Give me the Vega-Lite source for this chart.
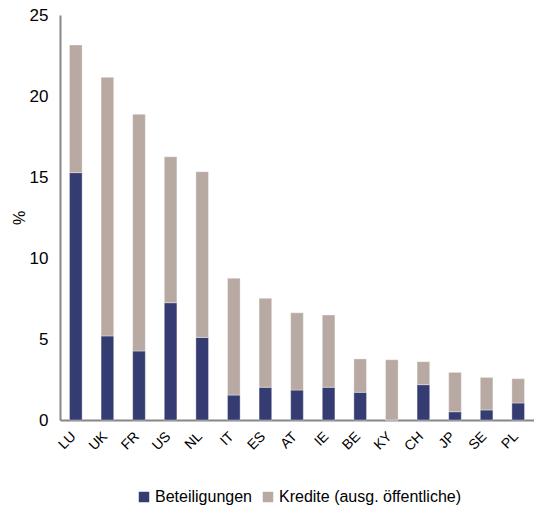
{
  "$schema": "https://vega.github.io/schema/vega-lite/v6.json",
  "width": 474,
  "height": 405,
  "autosize": {"type": "none"},
  "padding": {"left": 60, "top": 15, "right": 0, "bottom": 92},
  "background": "white",
  "config": {
    "font": "Liberation Sans",
    "view": {"stroke": null}
  },
  "data": {
    "values": [
      {"land": "LU", "typ": "Beteiligungen", "ord": 1, "wert": 15.27},
      {"land": "LU", "typ": "Kredite (ausg. öffentliche)", "ord": 2, "wert": 7.88},
      {"land": "UK", "typ": "Beteiligungen", "ord": 1, "wert": 5.19},
      {"land": "UK", "typ": "Kredite (ausg. öffentliche)", "ord": 2, "wert": 15.96},
      {"land": "FR", "typ": "Beteiligungen", "ord": 1, "wert": 4.26},
      {"land": "FR", "typ": "Kredite (ausg. öffentliche)", "ord": 2, "wert": 14.61},
      {"land": "US", "typ": "Beteiligungen", "ord": 1, "wert": 7.24},
      {"land": "US", "typ": "Kredite (ausg. öffentliche)", "ord": 2, "wert": 9.01},
      {"land": "NL", "typ": "Beteiligungen", "ord": 1, "wert": 5.1},
      {"land": "NL", "typ": "Kredite (ausg. öffentliche)", "ord": 2, "wert": 10.23},
      {"land": "IT", "typ": "Beteiligungen", "ord": 1, "wert": 1.54},
      {"land": "IT", "typ": "Kredite (ausg. öffentliche)", "ord": 2, "wert": 7.21},
      {"land": "ES", "typ": "Beteiligungen", "ord": 1, "wert": 2.02},
      {"land": "ES", "typ": "Kredite (ausg. öffentliche)", "ord": 2, "wert": 5.49},
      {"land": "AT", "typ": "Beteiligungen", "ord": 1, "wert": 1.85},
      {"land": "AT", "typ": "Kredite (ausg. öffentliche)", "ord": 2, "wert": 4.77},
      {"land": "IE", "typ": "Beteiligungen", "ord": 1, "wert": 2.02},
      {"land": "IE", "typ": "Kredite (ausg. öffentliche)", "ord": 2, "wert": 4.46},
      {"land": "BE", "typ": "Beteiligungen", "ord": 1, "wert": 1.71},
      {"land": "BE", "typ": "Kredite (ausg. öffentliche)", "ord": 2, "wert": 2.06},
      {"land": "KY", "typ": "Beteiligungen", "ord": 1, "wert": 0},
      {"land": "KY", "typ": "Kredite (ausg. öffentliche)", "ord": 2, "wert": 3.72},
      {"land": "CH", "typ": "Beteiligungen", "ord": 1, "wert": 2.18},
      {"land": "CH", "typ": "Kredite (ausg. öffentliche)", "ord": 2, "wert": 1.42},
      {"land": "JP", "typ": "Beteiligungen", "ord": 1, "wert": 0.51},
      {"land": "JP", "typ": "Kredite (ausg. öffentliche)", "ord": 2, "wert": 2.43},
      {"land": "SE", "typ": "Beteiligungen", "ord": 1, "wert": 0.62},
      {"land": "SE", "typ": "Kredite (ausg. öffentliche)", "ord": 2, "wert": 2.01},
      {"land": "PL", "typ": "Beteiligungen", "ord": 1, "wert": 1.05},
      {"land": "PL", "typ": "Kredite (ausg. öffentliche)", "ord": 2, "wert": 1.5}
    ]
  },
  "mark": {"type": "bar", "stroke": "#ffffff", "strokeWidth": 0.6, "strokeOpacity": 0.6},
  "encoding": {
    "x": {
      "field": "land",
      "type": "nominal",
      "sort": null,
      "scale": {"paddingInner": 0.6, "paddingOuter": 0.3},
      "axis": {
        "title": null,
        "labelAngle": -45,
        "labelAlign": "right",
        "labelBaseline": "middle",
        "labelFontSize": 14,
        "labelColor": "#000000",
        "labelPadding": 14,
        "labelOffset": -2,
        "ticks": false,
        "domainColor": "#868686",
        "domainWidth": 2,
        "grid": false
      }
    },
    "y": {
      "field": "wert",
      "type": "quantitative",
      "stack": "zero",
      "scale": {"domain": [0, 25], "nice": false},
      "axis": {
        "title": "%",
        "titleFontSize": 16,
        "titleFontWeight": "normal",
        "titleColor": "#000000",
        "titlePadding": 2,
        "values": [0, 5, 10, 15, 20, 25],
        "labelFontSize": 17,
        "labelColor": "#000000",
        "labelPadding": 12,
        "ticks": false,
        "grid": false,
        "domainColor": "#868686",
        "domainWidth": 2
      }
    },
    "color": {
      "field": "typ",
      "type": "nominal",
      "sort": ["Beteiligungen", "Kredite (ausg. öffentliche)"],
      "scale": {"domain": ["Beteiligungen", "Kredite (ausg. öffentliche)"], "range": ["#353C71", "#B8A9A2"]},
      "legend": {
        "title": null,
        "orient": "none",
        "direction": "horizontal",
        "legendX": 76,
        "legendY": 474,
        "symbolType": "square",
        "symbolSize": 110,
        "symbolStrokeWidth": 0,
        "labelFontSize": 16,
        "labelLimit": 0,
        "labelColor": "#000000",
        "labelOffset": 3,
        "columnPadding": 8
      }
    },
    "order": {"field": "ord", "type": "quantitative"}
  }
}
